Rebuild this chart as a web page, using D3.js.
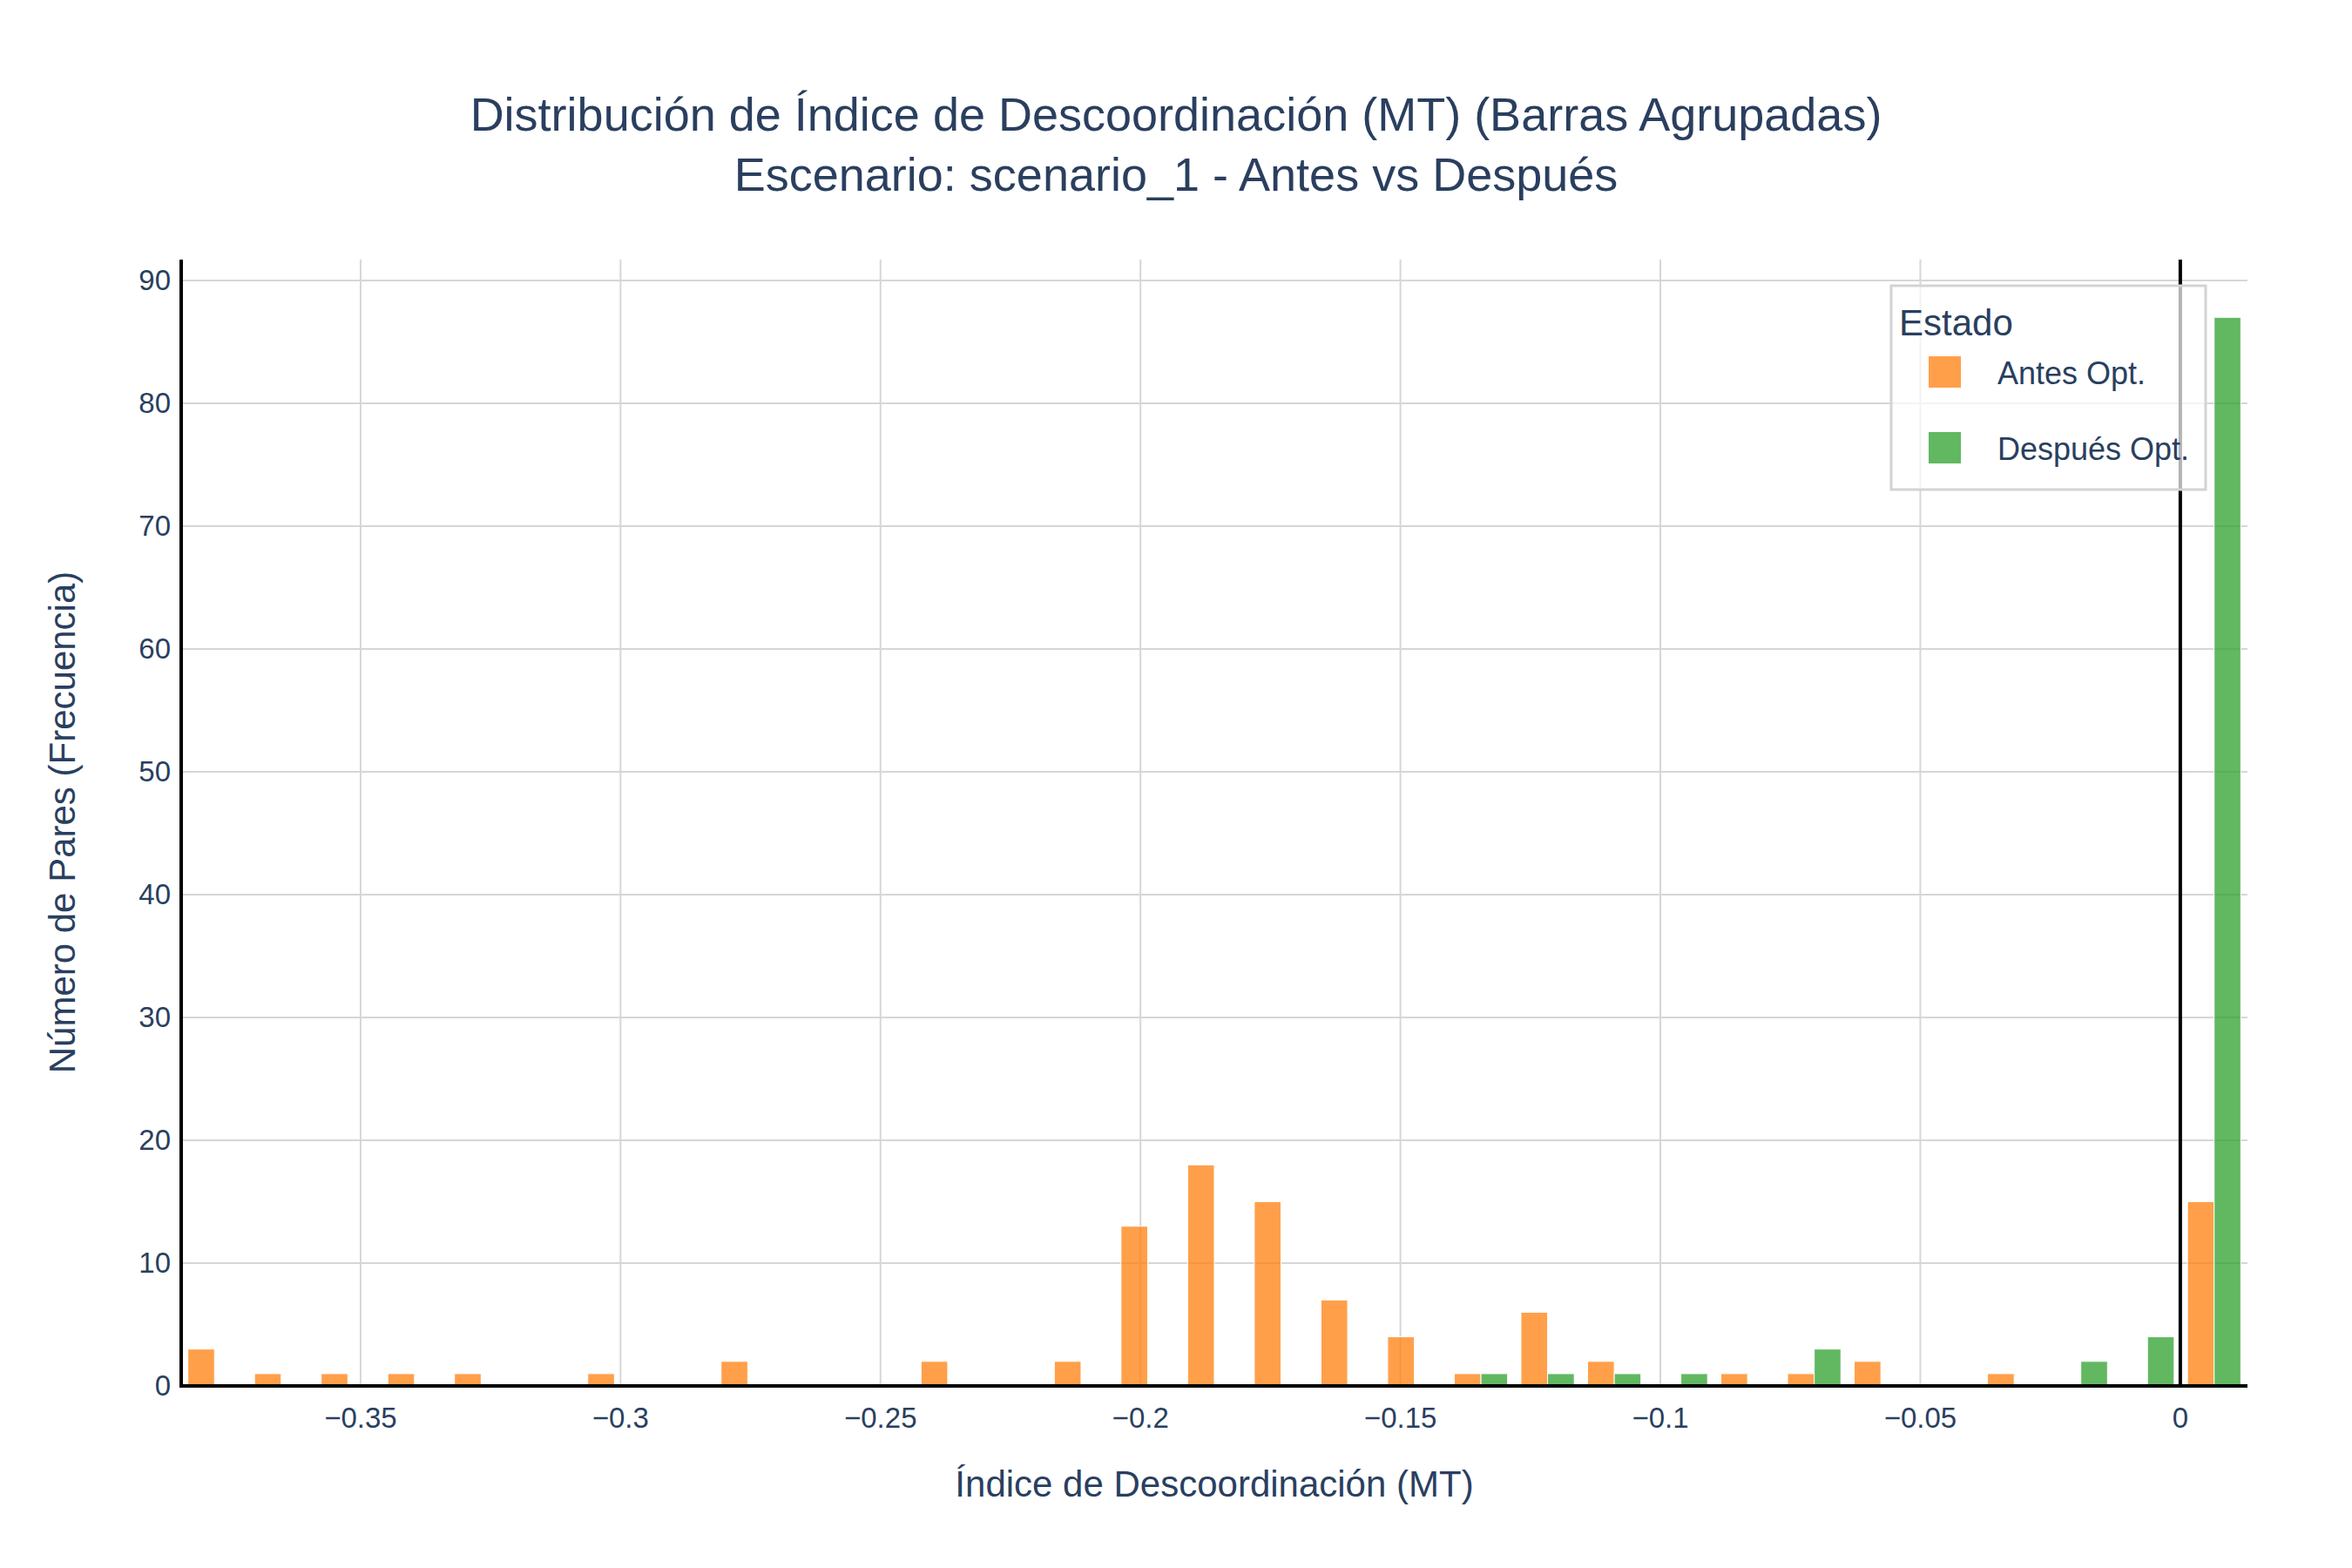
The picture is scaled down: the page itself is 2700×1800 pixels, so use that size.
<!DOCTYPE html>
<html><head><meta charset="utf-8">
<script src="https://cdn.jsdelivr.net/npm/d3@7"></script>
<style>body{margin:0;background:#fff}text{font-family:"Liberation Sans",Arial,sans-serif;fill:#2a3f5f}</style>
</head><body><svg id="c" width="2700" height="1800"></svg>
<script>
const binStart = -0.3845;
const binWidth = 0.01282;
const antes   = [3,1,1,1,1,0,1,0,2,0,0,2,0,2,13,18,15,7,4,1,6,2,0,1,1,2,0,1,0,0,15];
const despues = [0,0,0,0,0,0,0,0,0,0,0,0,0,0,0,0,0,0,0,1,1,1,1,0,3,0,0,0,2,4,87];
const xTicks = [-0.35,-0.3,-0.25,-0.2,-0.15,-0.1,-0.05,0];
const yTicks = [0,10,20,30,40,50,60,70,80,90];
const series = [{name:"Antes Opt.",color:"#ff7f0e",data:antes},{name:"Después Opt.",color:"#2ca02c",data:despues}];

const svg = d3.select("#c");
const L=208,R=2580,T=298,B=1591;
const x = d3.scaleLinear().domain([binStart, binStart+binWidth*antes.length]).range([L,R]);
const y = d3.scaleLinear().domain([0,91.7]).range([B,T]);
const g = svg.append("g");
g.selectAll(".vg").data(xTicks).join("line").attr("x1",d=>x(d)).attr("x2",d=>x(d)).attr("y1",T).attr("y2",B).attr("stroke","#d6d6d6").attr("stroke-width",2);
g.selectAll(".hg").data(yTicks.slice(1)).join("line").attr("x1",L).attr("x2",R).attr("y1",d=>y(d)).attr("y2",d=>y(d)).attr("stroke","#d6d6d6").attr("stroke-width",2);
series.forEach((s,si)=>{
  g.selectAll(".b"+si).data(s.data.map((v,i)=>({v,i}))).join("rect")
   .attr("x",d=>x(binStart+binWidth*(d.i+0.1+0.4*si)))
   .attr("width",d=>x(binStart+binWidth*0.4)-x(binStart))
   .attr("y",d=>y(d.v)).attr("height",d=>B-y(d.v))
   .attr("fill",s.color).attr("fill-opacity",0.75)
   .attr("stroke","#fff").attr("stroke-width",d=>d.v>0?1:0);
});
g.append("line").attr("x1",x(0)).attr("x2",x(0)).attr("y1",T).attr("y2",B).attr("stroke","#000").attr("stroke-width",4);
g.append("line").attr("x1",L).attr("x2",L).attr("y1",T).attr("y2",B+2).attr("stroke","#000").attr("stroke-width",4);
g.append("line").attr("x1",L-2).attr("x2",R).attr("y1",B).attr("y2",B).attr("stroke","#000").attr("stroke-width",4);
const fmt = d=> d===0?"0":("\u2212"+String(Math.abs(d)));
g.selectAll(".xt").data(xTicks).join("text").attr("x",d=>x(d)).attr("y",B+48).attr("text-anchor","middle").attr("font-size",33).text(fmt);
g.selectAll(".yt").data(yTicks).join("text").attr("x",L-12).attr("y",d=>y(d)+11).attr("text-anchor","end").attr("font-size",33).text(d=>d);
svg.append("text").attr("x",1350).attr("y",150).attr("text-anchor","middle").attr("font-size",54).text("Distribución de Índice de Descoordinación (MT) (Barras Agrupadas)");
svg.append("text").attr("x",1350).attr("y",219).attr("text-anchor","middle").attr("font-size",54).text("Escenario: scenario_1 - Antes vs Después");
svg.append("text").attr("x",(L+R)/2).attr("y",1718).attr("text-anchor","middle").attr("font-size",42).text("Índice de Descoordinación (MT)");
svg.append("text").attr("transform","translate(86,944) rotate(-90)").attr("text-anchor","middle").attr("font-size",42).text("Número de Pares (Frecuencia)");
const lg = svg.append("g");
lg.append("rect").attr("x",2171).attr("y",328).attr("width",361).attr("height",234).attr("fill","#fff").attr("fill-opacity",0.7).attr("stroke","#d3d3d3").attr("stroke-width",3);
lg.append("text").attr("x",2180).attr("y",385).attr("font-size",42).text("Estado");
series.forEach((s,i)=>{
  lg.append("rect").attr("x",2214).attr("y",409+87*i).attr("width",37).attr("height",36).attr("fill",s.color).attr("fill-opacity",0.75);
  lg.append("text").attr("x",2293).attr("y",441+87*i).attr("font-size",36).text(s.name);
});
</script></body></html>
